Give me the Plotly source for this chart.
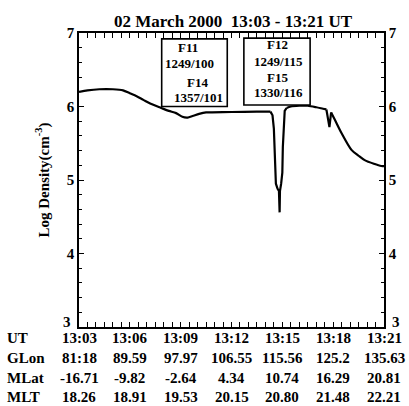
import plotly.graph_objects as go

# minutes after 13:03 UT
t_min = [0.0, 0.5, 1.2, 2.0, 2.6, 3.0, 3.4, 3.8, 4.2, 4.85, 5.3, 5.73, 6.1, 6.41, 6.7,
         7.09, 7.5, 7.85, 9.0, 10.5, 11.3, 11.42, 11.50, 11.55, 11.58, 11.62, 11.72,
         11.80, 11.84, 11.86, 11.93, 12.00, 12.03, 12.08, 12.14, 12.25, 12.5, 13.0,
         13.5, 14.0, 14.4, 14.6, 14.72, 14.78, 14.82, 14.88, 15.1, 15.49, 16.08,
         16.5, 16.86, 17.4, 17.84, 18.0]
log_density = [6.20, 6.22, 6.235, 6.235, 6.22, 6.18, 6.14, 6.09, 6.04, 5.98, 5.94, 5.91,
               5.86, 5.85, 5.87, 5.90, 5.92, 5.92, 5.925, 5.93, 5.93, 5.88, 5.70, 5.40,
               5.10, 4.95, 4.88, 4.85, 4.56, 4.85, 4.95, 5.10, 5.45, 5.75, 5.94, 5.98,
               6.00, 6.01, 6.01, 5.99, 5.97, 5.96, 5.80, 5.72, 5.80, 5.92, 5.82, 5.64,
               5.41, 5.33, 5.27, 5.22, 5.19, 5.19]

tick_pos = [0, 3, 6, 9, 12, 15, 18]
ut_labels = ["13:03", "13:06", "13:09", "13:12", "13:15", "13:18", "13:21"]
glon_labels = ["81:18", "89.59", "97.97", "106.55", "115.56", "125.2", "135.63"]
mlat_labels = ["-16.71", "-9.82", "-2.64", "4.34", "10.74", "16.29", "20.81"]
mlt_labels = ["18.26", "18.91", "19.53", "20.15", "20.80", "21.48", "22.21"]
row_names = ["UT", "GLon", "MLat", "MLT"]

box1_text = [("F11", 6.45, 6.80), ("1249/100", 6.5, 6.59), ("F14", 6.98, 6.32), ("1357/101", 7.03, 6.12)]
box2_text = [("F12", 11.72, 6.84), ("1249/115", 11.78, 6.61), ("F15", 11.72, 6.39), ("1330/116", 11.78, 6.19)]

FONT = "Liberation Serif"

fig = go.Figure()

# split the series: smooth stretches drawn as splines, sharp dips as straight segments
idx = {t: i for i, t in enumerate(t_min)}
pieces = [
    (idx[0.0], idx[11.3], "spline"),
    (idx[11.3], idx[12.25], "linear"),
    (idx[12.25], idx[14.6], "spline"),
    (idx[14.6], idx[14.88], "linear"),
    (idx[14.88], idx[18.0], "spline"),
]
for i0, i1, shp in pieces:
    xs, ys = t_min[i0:i1 + 1], log_density[i0:i1 + 1]
    line = dict(color="black", width=2.2, shape=shp)
    if shp == "spline":
        line["smoothing"] = 0.8
    fig.add_trace(go.Scatter(x=xs, y=ys, mode="lines", line=line, showlegend=False))

fig.add_trace(go.Scatter(x=[0, 18], y=[3, 3], mode="lines", yaxis="y2",
                         line=dict(color="rgba(0,0,0,0)"), showlegend=False, hoverinfo="skip"))

fig.add_shape(type="rect", xref="x", yref="y", x0=4.88, x1=8.75, y0=6.0, y1=6.92,
              line=dict(color="black", width=1.6), fillcolor="white", layer="above")
fig.add_shape(type="rect", xref="x", yref="y", x0=9.73, x1=13.64, y0=6.02, y1=6.93,
              line=dict(color="black", width=1.6), fillcolor="white", layer="above")

for txt, x, y in box1_text + box2_text:
    fig.add_annotation(x=x, y=y, xref="x", yref="y", text=txt, showarrow=False,
                       font=dict(family=FONT, size=13, color="black", weight="bold"))

# raised "3" labels at the bottom of both y axes
for xp in [-0.02, 1.02]:
    fig.add_annotation(x=xp, y=0.017, xref="paper", yref="paper", text="3",
                       showarrow=False, xanchor="right" if xp < 0 else "left",
                       yanchor="middle",
                       font=dict(family=FONT, size=15, color="black", weight="bold"))

rows = [ut_labels, glon_labels, mlat_labels, mlt_labels]
row_y = [-0.037, -0.105, -0.173, -0.238]
for name, labels, yy in zip(row_names, rows, row_y):
    fig.add_annotation(x=-0.244, y=yy, xref="paper", yref="paper", text=name,
                       showarrow=False, xanchor="left", yanchor="middle",
                       font=dict(family=FONT, size=15, color="black", weight="bold"))
    for xp, lab in zip(tick_pos, labels):
        fig.add_annotation(x=xp, y=yy, xref="x", yref="paper", text=lab,
                           showarrow=False, xanchor="center", yanchor="middle",
                           font=dict(family=FONT, size=15, color="black", weight="bold"))

axis_common = dict(showgrid=False, zeroline=False, linecolor="black", linewidth=1.5,
                   ticks="inside", tickcolor="black", tickwidth=1.2)

fig.update_layout(
    width=409, height=406,
    margin=dict(l=79, r=23, t=33, b=79),
    paper_bgcolor="white", plot_bgcolor="white",
    title=dict(text="02 March 2000  13:03 - 13:21 UT", x=0.57, xanchor="center",
               y=0.948, yanchor="middle",
               font=dict(family=FONT, size=17, color="black", weight="bold")),
    xaxis=dict(range=[0, 18], tickvals=tick_pos, showticklabels=False, ticklen=5,
               mirror="allticks",
               minor=dict(dtick=0.5, ticks="inside", ticklen=3, tickcolor="black", tickwidth=1),
               **axis_common),
    yaxis=dict(range=[3, 7], tickvals=[4, 5, 6, 7], ticklen=5, mirror=True,
               minor=dict(dtick=0.2, ticks="inside", ticklen=3, tickcolor="black", tickwidth=1),
               tickfont=dict(family=FONT, size=15, color="black", weight="bold"),
               title=dict(text="Log Density(cm<sup>-3</sup>)", standoff=14,
                          font=dict(family=FONT, size=15, color="black", weight="bold")),
               **axis_common),
    yaxis2=dict(range=[3, 7], tickvals=[4, 5, 6, 7], ticklen=5, overlaying="y", side="right",
                minor=dict(dtick=0.2, ticks="inside", ticklen=3, tickcolor="black", tickwidth=1),
                tickfont=dict(family=FONT, size=15, color="black", weight="bold"),
                **axis_common),
)

fig.write_html("out.html")
